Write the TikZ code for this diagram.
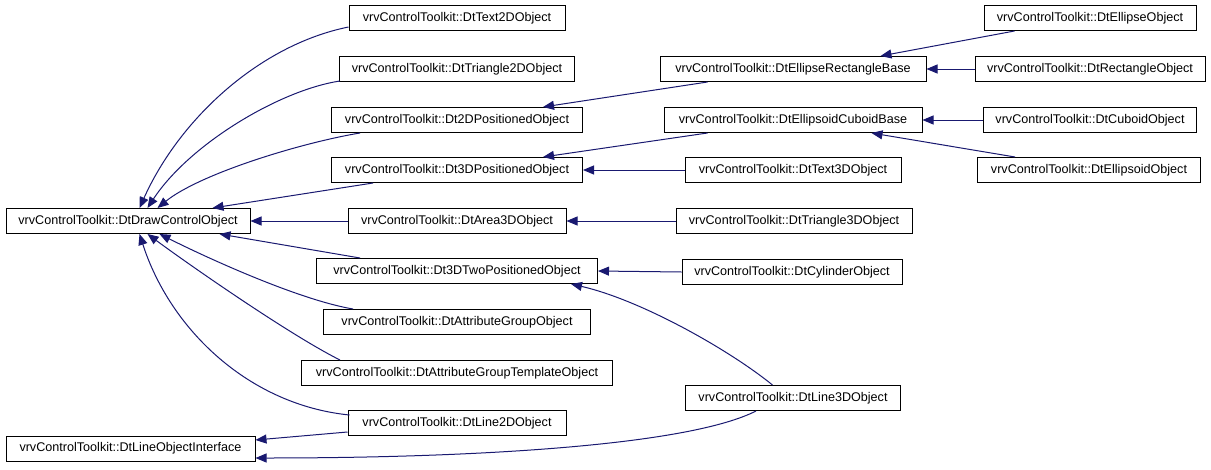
\documentclass[tikz,border=0pt]{standalone}
\usepackage{fontspec}
\setmainfont{Liberation Sans}
\usetikzlibrary{arrows.meta,calc}
\definecolor{midnightblue}{HTML}{191970}
\tikzset{
  cls/.style={draw=black,line width=1pt,fill=white,minimum height=25pt,
    inner xsep=1pt,inner ysep=0pt,font=\fontsize{12.6}{14}\selectfont},
  inh/.style={draw=midnightblue,line width=1pt,-{Triangle[length=11pt,width=9pt]}}
}

\begin{document}
\begin{tikzpicture}[x=1pt,y=-1pt]
  \useasboundingbox (0,0) rectangle (1211,469);

  \node[cls,minimum width=244pt] (base)      at (128,221)   {vrvControlToolkit::DtDrawControlObject};
  \node[cls,minimum width=249pt] (lineif)    at (130.5,448.5) {vrvControlToolkit::DtLineObjectInterface};

  \node[cls,minimum width=216pt] (text2d)    at (457,18)  {vrvControlToolkit::DtText2DObject};
  \node[cls,minimum width=235pt] (tri2d)     at (457,69)  {vrvControlToolkit::DtTriangle2DObject};
  \node[cls,minimum width=251pt] (pos2d)     at (457,120) {vrvControlToolkit::Dt2DPositionedObject};
  \node[cls,minimum width=251pt] (pos3d)     at (457,170) {vrvControlToolkit::Dt3DPositionedObject};
  \node[cls,minimum width=218pt] (area3d)    at (457,221) {vrvControlToolkit::DtArea3DObject};
  \node[cls,minimum width=281pt] (twopos3d)  at (457,271) {vrvControlToolkit::Dt3DTwoPositionedObject};
  \node[cls,minimum width=267pt] (attrgrp)   at (457,322) {vrvControlToolkit::DtAttributeGroupObject};
  \node[cls,minimum width=311pt] (attrtmpl)  at (457,373) {vrvControlToolkit::DtAttributeGroupTemplateObject};
  \node[cls,minimum width=218pt] (line2d)    at (457,423) {vrvControlToolkit::DtLine2DObject};

  \node[cls,minimum width=266pt] (ellrect)   at (793,69)  {vrvControlToolkit::DtEllipseRectangleBase};
  \node[cls,minimum width=258pt] (ellcub)    at (793,120) {vrvControlToolkit::DtEllipsoidCuboidBase};
  \node[cls,minimum width=216pt] (text3d)    at (793,170) {vrvControlToolkit::DtText3DObject};
  \node[cls,minimum width=236pt] (tri3d)     at (794,221) {vrvControlToolkit::DtTriangle3DObject};
  \node[cls,minimum width=220pt] (cyl)       at (792,272) {vrvControlToolkit::DtCylinderObject};
  \node[cls,minimum width=215pt] (line3d)    at (793,398) {vrvControlToolkit::DtLine3DObject};

  \node[cls,minimum width=212pt] (ellipse)   at (1090,18)  {vrvControlToolkit::DtEllipseObject};
  \node[cls,minimum width=230pt] (rect)      at (1090,69)  {vrvControlToolkit::DtRectangleObject};
  \node[cls,minimum width=213pt] (cuboid)    at (1090,120) {vrvControlToolkit::DtCuboidObject};
  \node[cls,minimum width=223pt] (ellipsoid) at (1089,170) {vrvControlToolkit::DtEllipsoidObject};

  \draw[inh] ($(text2d.west)+(0,9)$) .. controls +(-89,18) and +(40,-89) .. ($(base.north west)+(134,0)$);
  \draw[inh] ($(tri2d.south west)+(1,-1)$) .. controls +(-60,9) and +(42,-64) .. ($(base.north west)+(142,0)$);
  \draw[inh] ($(pos2d.south west)+(29,0)$) .. controls +(-60,10) and +(42,-34) .. ($(base.north west)+(152,0)$);
  \draw[inh] ($(pos3d.south west)+(42,0)$) -- ($(base.north west)+(207,0)$);
  \draw[inh] (area3d.west) -- (base.east);
  \draw[inh] ($(twopos3d.north west)+(44,0)$) -- ($(base.south west)+(214,0)$);
  \draw[inh] ($(attrgrp.north west)+(30,0)$) .. controls +(-53,-9) and +(52,26) .. ($(base.south west)+(154,0)$);
  \draw[inh] ($(attrtmpl.north west)+(39,0)$) .. controls +(-50,-25) and +(42,31) .. ($(base.south west)+(142,0)$);
  \draw[inh] ($(line2d.north west)+(2,5)$) .. controls +(-100,-10) and +(31,96) .. ($(base.south west)+(134,0)$);

  \draw[inh] ($(line2d.west)+(0,9)$) -- ($(lineif.east)+(0,-8.5)$);
  \draw[inh] ($(line3d.south west)+(71,0)$) .. controls +(-67,34) and +(225,0) .. ($(lineif.east)+(0,9.5)$);

  \draw[inh] ($(ellrect.south west)+(48,0)$) -- ($(pos2d.north east)+(-40,0)$);
  \draw[inh] ($(ellcub.south west)+(44,0)$) -- ($(pos3d.north east)+(-40,0)$);
  \draw[inh] (text3d.west) -- (pos3d.east);
  \draw[inh] (tri3d.west) -- (area3d.east);
  \draw[inh] (cyl.west) -- (twopos3d.east);
  \draw[inh] ($(line3d.north west)+(87.5,0)$) .. controls +(-43,-35) and +(70,16) .. ($(twopos3d.south east)+(-27,0)$);

  \draw[inh] ($(ellipse.south west)+(31,0)$) -- ($(ellrect.north east)+(-46,0)$);
  \draw[inh] (rect.west) -- (ellrect.east);
  \draw[inh] (cuboid.west) -- (ellcub.east);
  \draw[inh] ($(ellipsoid.north west)+(38,0)$) -- ($(ellcub.south east)+(-51,0)$);
\end{tikzpicture}
\end{document}
